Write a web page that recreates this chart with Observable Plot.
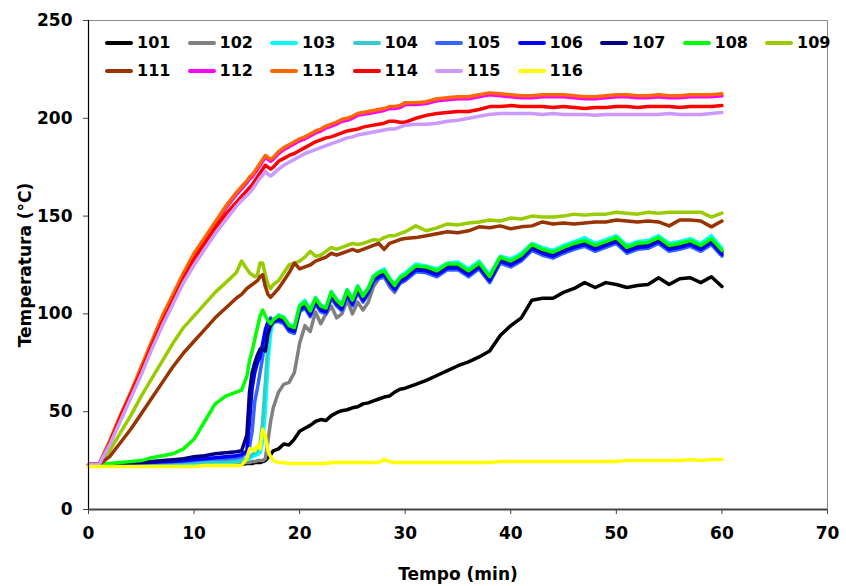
<!DOCTYPE html>
<html><head><meta charset="utf-8">
<script src="https://cdn.jsdelivr.net/npm/d3@7"></script>
<script src="https://cdn.jsdelivr.net/npm/@observablehq/plot@0.6"></script>
<style>
body{margin:0;background:#fff;}
#wrap{position:relative;width:846px;height:586px;font-family:"DejaVu Sans",sans-serif;}
.leg{position:absolute;display:flex;align-items:center;font-weight:bold;font-size:16px;line-height:16px;transform:translateY(-50%);color:#000;}
.leg .sw{display:inline-block;width:28px;height:4px;border-radius:2px;margin-right:4px;}
</style></head><body><div id="wrap"></div>
<script>
// time (min)
const T = [0,1,2,3,4,5,6,7,8,9,10,11,12,13,14,
  14.5,15,15.25,15.5,15.75,16,16.25,16.5,16.75,17,17.25,17.5,
  18,18.5,19,19.5,20,20.5,21,21.5,22,22.5,23,23.5,24,24.5,25,25.5,26,26.5,27,27.5,28,28.5,29,29.5,30,
  31,32,33,34,35,36,37,38,39,40,41,42,43,44,45,46,47,48,49,50,51,52,53,54,55,56,57,58,59,60];

const s101 = [22.5,22.5,22.5,22.5,22.5,22.5,22.5,22.5,22.5,22.5,23,23,23,23,23,
  23,23.5,23.5,23.5,24,24,24,24.5,25,26.5,28,30,
  31,33.5,33,36,40,41.5,43,45,46,45.5,48,49.5,50.5,51,52,52.5,54,54.5,55.5,56.5,57.5,58,60,61.5,62,
  64,66,68.5,71,73.5,75.5,78,81,89,94,98,107,108,108,111,113,116,113.5,116,115,113.5,114.5,115,118.5,115,118,118.5,116,119,114];
const s102 = [22.5,22.5,22.5,22.5,22.5,22.5,22.5,23,23,23,23,23,23.5,23.5,23.5,
  24,24,24,24.5,24.5,25,25,25,26,35,45,52,
  60,64,65,70,85,94,91,101,95,100,104,98,100,107,100,106,102,106,114,118,119,114,111,116,117.5,
  122,121.5,119.5,123,123,119.5,123.5,116.5,126.5,124.5,127.5,133,130.5,129,131.5,133.5,135,132.5,134.5,136.5,131.5,133.5,134,136.5,132.5,133.5,135,132.5,136,130];
const s103 = [22.5,22.5,22.5,23,23,23,23,23,23.5,23.5,23.5,24,24,24,24.5,
  25,25.5,26,27,27.5,28,29,35,50,75,90,96,
  99.5,98.5,94.5,93.5,104.5,107,102,108.5,104.5,103.5,111.5,107.5,105,112.5,107.5,114.5,109.5,113.5,119.5,121.5,123,118.5,115,119,121,
  125.5,124.5,123,126,126.5,123,127,120,129.5,128,131,136,134,132.5,135,137,139,136,138,140,135,137,137.5,140,136,137,138.5,136,140,133.5];
const s104 = [23,23,23,23,23,23,23.5,23.5,23.5,24,24,24,24.5,24.5,25,
  25.5,26,27,28,29,30,33,45,65,85,93,95,
  98,97,93,92,103,105,100.5,107,103,102,110,106,103.5,111,106,113,108,112,118,120,121,117,113.5,117.5,119,
  123.5,123,121,124.5,124.5,121,125,118,128,126,129,134.5,132,130.5,133,135,136.5,134,136,138,133,135,135.5,138,134,135,136.5,134,137.5,131.5];
const s105 = [23,23,23,23,23.5,23.5,24,24,24.5,24.5,25,25.5,26,26,26.5,
  27,29,32,40,55,62,70,78,90,96,98,96,
  96,95,91,90,101,103,98.5,105,101,100,108,104,101.5,109,104,111,106,110,116,118,119,115,111.5,115.5,117,
  121.5,121,119,122.5,122.5,119,123,116,126,124,127,132.5,130,128.5,131,133,134.5,132,134,136,131,133,133.5,136,132,133,134.5,132,135.5,129.5];
const s106 = [23,23,23,23.5,23.5,24,24,24.5,24.5,25,25.5,26,26.5,27,27.5,
  28,30,45,62,70,75,78,85,92,96,97,96,
  97,96,92,91,102,104,99.5,106,102,101,109,105,102.5,110,105,112,107,111,117,119,120,116,112.5,116.5,118,
  122.5,122,120,123.5,123.5,120,124,117,127,125,128,133.5,131,129.5,132,134,135.5,133,135,137,132,134,134.5,137,133,134,135.5,133,136.5,130.5];
const s107 = [23,23,23,23.5,24,24,24.5,25,25.5,26,27,27.5,28.5,29,29.5,
  30,38,60,70,75,79,82,82,81,90,94,96,
  98.5,97.5,93.5,92.5,103,105.5,101,107.5,103.5,102.5,110.5,106.5,104,111.5,106.5,113.5,108.5,112.5,118.5,120.5,121.5,117.5,114,118,119.5,
  124,123.5,121.5,125,125,121.5,125.5,118.5,128.5,126.5,129.5,135,132.5,131,133.5,135.5,137,134.5,136.5,138.5,133.5,135.5,136,138.5,134.5,135.5,137,134.5,138,132];
const s108 = [23,23,23.5,24,24.5,25,26.5,27.5,28.5,31,36,45,54,58,60,
  61,68,76,81,87,93,99,102,99,96.5,95,97,
  99,98,94,93,104,106,101.5,108,104,103,111,107,104.5,112,107,114,109,113,119,121,122,118,114.5,118.5,120,
  124.5,124,122,125.5,125.5,122,126,119,129,127,130,135.5,133,131.5,134,136,137.5,135,137,139,134,136,136.5,139,135,136,137.5,135,138.5,132.5];
const s109 = [23,23,30,39,48,58,67,76,85,93,99,105,111,116,121,
  127,123,121,120,119,120,126,126,120,115,113,115,
  117,121,125,126,127,129,132,129.5,130,132,134,133,134,135,136,135.5,136,137,138,137.5,139,140,140,141,142,
  145,142.5,144,146,145.5,146.5,147,148,147.5,149,148.5,150,149.5,149.5,150,151,150.5,151,151,152,151.5,151,152,151.5,152,152,152,152,149.5,151.5];
const s111 = [23,23,27,34,41,49,57,65,73,80,86,92,98,103,108,
  110,113,114,115,116,117,119,120,114,110,108.5,110,
  113,117,121,126,123,124,125,127,128,129,131,130,131,132,133,132,133,134,135,136,133,136,137,138,138.5,
  139,140,141,142,141.5,142.5,144.5,144,145,143.5,144.5,145,147,146,146.5,146,146.5,147,147,148,147.5,147,147.5,147,145,148,148,147.5,144.5,147.5];
const s112 = [23,23,34,47,59,72,85,98,109,120,130,138,146,154,161,
  164,167,169,170,172,174,176,178,180,179,178,179,
  182,184,185.5,187,188.5,189.5,191,192.5,193.5,195,196,197,198.5,199,200,201.5,202,202.5,203,203.5,204,205,205,205.5,207,
  207,207.5,209,209.5,210,210,211,212,211.5,211,210.5,210.5,211,211,211,210.5,210,210,210.5,211,211,210.5,210.5,211,210.5,210.5,211,211,211,211.5];
const s113 = [23,23,35,48,60,73,86,99,110,121,131,139,147,155,162,
  165,168,170,171,173,175,177,179,181,180,179,180,
  183,185,186.5,188,189.5,190.5,192,193.5,194.5,196,197,198,199.5,200,201,202.5,203,203.5,204,204.5,205,206,206,206.5,208,
  208,208.5,210,210.5,211,211,212,213,212.5,212,211.5,211.5,212,212,212,211.5,211,211,211.5,212,212,211.5,211.5,212,211.5,211.5,212,212,212,212.5];
const s114 = [23,23,34,47,59,71,84,96,107,118,128,136,144,151,157,
  160,163,164.5,166,168,170,172,174,176,175,174,175,
  178,179.5,181,182,183.5,185,186.5,188,189,190,190.5,191.5,192.5,193.5,194,194.5,195.5,196,196.5,197,197.5,198.5,198.5,198,198,
  200,201.5,202.5,203,203.5,203.5,204.5,206,206,206.5,206,206,206,205.5,206,205.5,205,205.5,205.5,206,206,205.5,206,206,206,205.5,206,206,206,206.5];
const s115 = [23,23,33,45,57,69,82,94,105,116,125,133,141,148,155,
  158,160.5,162,163.5,165.5,167.5,169.5,171,173,171.5,170.5,171.5,
  174,176,177.5,179,180.5,182,183,184,185,186,187,188,189,190,190.5,191.5,192,192.5,193,193.5,194,194.5,194.5,195.5,196.5,
  197,197,197.5,198.5,199,200,201,202,202.5,202.5,202.5,202.5,202,202.5,202,202,202,201.5,202,202,202,202,202,202,202.5,202,202,202,202.5,203];
const s116 = [22,22,22,22,22,22,22,22,22,22,22,22.5,22.5,22.5,22.5,
  22.5,26,31,31,30,33,31,41,38,30,27,25,
  24,24,23.5,23.5,23.5,23.5,23.5,23.5,23.5,23.5,24,24,24,24,24,24,24,24,24,24,25.5,24.5,24,24,24,
  24,24,24,24,24,24,24,24,24.5,24.5,24.5,24.5,24.5,24.5,24.5,24.5,24.5,24.5,24.5,24.5,25,25,25,25,25,25,25.5,25,25.5,25.5];

const seriesNames = ["101","102","103","104","105","106","107","108","109","111","112","113","114","115","116"];
const seriesColors = ["#000000","#808080","#00FFFF","#33CCCC","#3366FF","#0000FF","#000080","#00FF00","#99CC00","#993300","#FF00FF","#FF6600","#FF0000","#CC99FF","#FFFF00"];
const seriesValues = [s101,s102,s103,s104,s105,s106,s107,s108,s109,s111,s112,s113,s114,s115,s116];
const xTicks = [0,10,20,30,40,50,60,70];
const yTicks = [0,50,100,150,200,250];

const rows = [];
seriesNames.forEach((n,i) => seriesValues[i].forEach((v,j) => rows.push({series:n, t:T[j], v})));

const chart = Plot.plot({
  width: 846, height: 586,
  marginLeft: 88, marginRight: 19, marginTop: 20, marginBottom: 77,
  style: {fontFamily: "DejaVu Sans, sans-serif", fontSize: "17px", fontWeight: "bold", color: "#000", background: "#fff"},
  x: {domain: [0,70]},
  y: {domain: [0,250]},
  marks: [
    Plot.frame({stroke: "#8c8c8c"}),
    ...seriesNames.map((n,i) => Plot.line(rows.filter(d => d.series === n), {x: "t", y: "v", stroke: seriesColors[i], strokeWidth: 3.5, strokeLinejoin: "round"})),
    Plot.ruleX([0], {stroke: "#000", strokeWidth: 1.2}),
    Plot.ruleY([0], {stroke: "#444", strokeWidth: 2}),
    Plot.axisX({ticks: xTicks, tickSize: 5, tickPadding: 12, stroke: "#444", label: "Tempo (min)", labelAnchor: "center", labelOffset: 70, labelArrow: "none"}),
    Plot.axisY({ticks: yTicks, tickSize: 5, tickPadding: 11, stroke: "#444", label: "Temperatura (°C)", labelAnchor: "center", labelOffset: 70, labelArrow: "none"})
  ]
});
const wrap = document.getElementById("wrap");
wrap.appendChild(chart);

seriesNames.forEach((n,i) => {
  const row = i < 9 ? 0 : 1;
  const col = i < 9 ? i : i - 9;
  const el = document.createElement("div");
  el.className = "leg";
  el.style.left = (105 + col * 82.5) + "px";
  el.style.top = (row ? 71 : 43) + "px";
  el.innerHTML = `<span class="sw" style="background:${seriesColors[i]}"></span><span>${n}</span>`;
  wrap.appendChild(el);
});
</script>
</body></html>
